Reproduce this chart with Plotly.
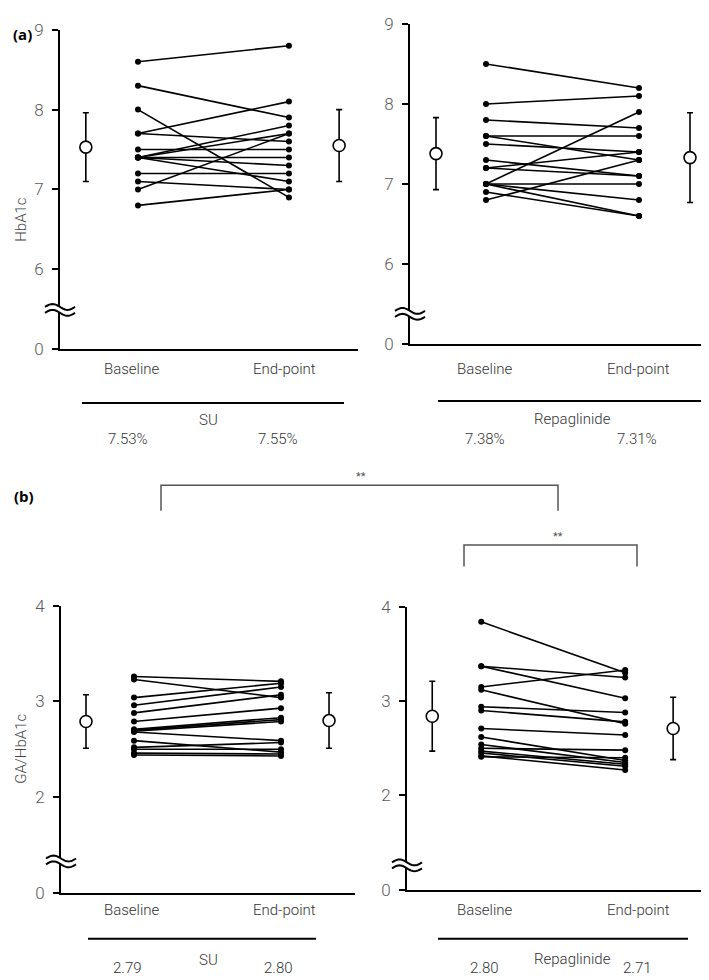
import math
import plotly.graph_objects as go

# ---------------- data ----------------
su_hba1c_base = [8.6, 8.3, 8.0, 7.7, 7.7, 7.5, 7.4, 7.4, 7.4, 7.4, 7.4, 7.2, 7.1, 7.0, 6.8]
su_hba1c_end = [8.8, 7.9, 6.9, 8.1, 7.6, 7.5, 7.8, 7.7, 7.4, 7.3, 7.1, 7.2, 7.0, 7.7, 7.0]
su_hba1c_mean = [7.53, 7.55]
su_hba1c_sd = [0.43, 0.45]

rep_hba1c_base = [8.5, 8.0, 7.8, 7.6, 7.6, 7.5, 7.3, 7.2, 7.2, 7.0, 7.0, 7.0, 7.0, 6.9, 6.8]
rep_hba1c_end = [8.2, 8.1, 7.7, 7.6, 7.3, 7.4, 7.1, 7.4, 7.1, 7.9, 7.0, 6.8, 6.6, 6.6, 7.3]
rep_hba1c_mean = [7.38, 7.33]
rep_hba1c_sd = [0.45, 0.56]

su_ga_base = [3.26, 3.23, 3.04, 2.96, 2.88, 2.79, 2.71, 2.70, 2.69, 2.68, 2.59, 2.52, 2.50, 2.46, 2.44]
su_ga_end = [3.21, 3.04, 3.19, 3.15, 3.07, 2.93, 2.83, 2.81, 2.79, 2.59, 2.47, 2.57, 2.50, 2.45, 2.43]
su_ga_mean = [2.79, 2.80]
su_ga_sd = [0.28, 0.29]

rep_ga_base = [3.84, 3.37, 3.37, 3.15, 3.12, 2.94, 2.90, 2.71, 2.62, 2.54, 2.50, 2.47, 2.45, 2.42, 2.41]
rep_ga_end = [3.30, 3.25, 3.03, 3.33, 2.76, 2.88, 2.78, 2.64, 2.37, 2.35, 2.48, 2.33, 2.31, 2.27, 2.40]
rep_ga_mean = [2.84, 2.71]
rep_ga_sd = [0.37, 0.33]

timepoints = ["Baseline", "End-point"]
groups = ["SU", "Repaglinide"]
hba1c_summary = [["7.53%", "7.55%"], ["7.38%", "7.31%"]]
ga_summary = [["2.79", "2.80"], ["2.80", "2.71"]]

hba1c_ticks = [5, 6, 7, 8, 9]
hba1c_ticktext = ["0", "6", "7", "8", "9"]
ga_ticks = [1, 2, 3, 4]
ga_ticktext = ["0", "2", "3", "4"]

# ---------------- layout helpers ----------------
W, H = 709, 980


def fx(x):
    return x / W


def fy(y):
    return 1 - y / H


FAM = "Roboto, Liberation Sans, Arial"
TICK_FONT = dict(family=FAM, size=17, color="#5a5a5a", weight=300)
LABEL_FONT = dict(family=FAM, size=15, color="#333333", weight=300)

panels = [
    dict(base=su_hba1c_base, end=su_hba1c_end, mean=su_hba1c_mean, sd=su_hba1c_sd,
         xdom=(52, 350), ydom=(12, 338), yrange=(5, 9), ticks=hba1c_ticks, ticktext=hba1c_ticktext,
         cols=(0.52, 1.57, 4.61, 5.62), squig=(52, 298)),
    dict(base=rep_hba1c_base, end=rep_hba1c_end, mean=rep_hba1c_mean, sd=rep_hba1c_sd,
         xdom=(402, 702), ydom=(6, 333), yrange=(5, 9), ticks=hba1c_ticks, ticktext=hba1c_ticktext,
         cols=(0.52, 1.52, 4.58, 5.60), squig=(402, 302)),
    dict(base=su_ga_base, end=su_ga_end, mean=su_ga_mean, sd=su_ga_sd,
         xdom=(53, 347), ydom=(600, 893), yrange=(1, 4), ticks=ga_ticks, ticktext=ga_ticktext,
         cols=(0.51, 1.49, 4.49, 5.47), squig=(53, 861)),
    dict(base=rep_ga_base, end=rep_ga_end, mean=rep_ga_mean, sd=rep_ga_sd,
         xdom=(399, 702), ydom=(601, 890), yrange=(1, 4), ticks=ga_ticks, ticktext=ga_ticktext,
         cols=(0.50, 1.47, 4.32, 5.27), squig=(399, 865)),
]

fig = go.Figure()
layout_axes = {}
shapes = []

for i, p in enumerate(panels):
    sfx = "" if i == 0 else str(i + 1)
    xa, ya = "x" + sfx, "y" + sfx
    mL, bx, ex, mR = p["cols"]

    xs, ys = [], []
    for b, e in zip(p["base"], p["end"]):
        xs += [bx, ex, None]
        ys += [b, e, None]
    fig.add_trace(go.Scatter(
        x=xs, y=ys, xaxis=xa, yaxis=ya, mode="lines+markers",
        line=dict(color="black", width=1.6), marker=dict(color="black", size=6),
        showlegend=False, hoverinfo="skip", cliponaxis=False))

    fig.add_trace(go.Scatter(
        x=[mL, mR], y=p["mean"], xaxis=xa, yaxis=ya, mode="markers",
        marker=dict(symbol="circle", color="white", size=12, line=dict(color="black", width=1.6)),
        error_y=dict(type="data", array=p["sd"], visible=True, color="black", thickness=1.6, width=3),
        showlegend=False, hoverinfo="skip", cliponaxis=False))

    layout_axes["xaxis" + sfx] = dict(
        domain=[fx(p["xdom"][0]), fx(p["xdom"][1])], range=[0, 6], anchor=ya,
        showline=True, linecolor="black", linewidth=2, showgrid=False, zeroline=False,
        showticklabels=False, ticks="", fixedrange=True)
    layout_axes["yaxis" + sfx] = dict(
        domain=[fy(p["ydom"][1]), fy(p["ydom"][0])], range=list(p["yrange"]), anchor=xa,
        showline=True, linecolor="black", linewidth=2, showgrid=False, zeroline=False,
        tickvals=p["ticks"], ticktext=p["ticktext"], ticks="outside", ticklen=6,
        tickwidth=2, tickcolor="black", tickfont=TICK_FONT, ticklabelstandoff=5, fixedrange=True)

    # axis break squiggle
    cx, cy = p["squig"]
    n = 24
    up, lo = [], []
    for k in range(n + 1):
        t = k / n
        x = cx - 15 + 30 * t
        dy = -3.0 * math.sin(2 * math.pi * t)
        up.append((x, cy - 3 + dy))
        lo.append((x, cy + 3 + dy))
    fill_pts = up + lo[::-1]
    path_fill = "M " + " L ".join(f"{fx(a):.5f},{fy(b):.5f}" for a, b in fill_pts) + " Z"
    shapes.append(dict(type="path", xref="paper", yref="paper", path=path_fill,
                       fillcolor="white", line=dict(width=0), layer="above"))
    for wave in (up, lo):
        pth = "M " + " L ".join(f"{fx(a):.5f},{fy(b):.5f}" for a, b in wave)
        shapes.append(dict(type="path", xref="paper", yref="paper", path=pth,
                           line=dict(color="black", width=2), layer="above"))


def hline(x0, x1, y, color="black", width=2):
    shapes.append(dict(type="line", xref="paper", yref="paper", x0=fx(x0), x1=fx(x1),
                       y0=fy(y), y1=fy(y), line=dict(color=color, width=width)))


def bracket(x0, x1, ytop, ybot):
    pth = f"M {fx(x0)},{fy(ybot)} L {fx(x0)},{fy(ytop)} L {fx(x1)},{fy(ytop)} L {fx(x1)},{fy(ybot)}"
    shapes.append(dict(type="path", xref="paper", yref="paper", path=pth,
                       line=dict(color="#555555", width=1.5)))


# group underlines
hline(74, 336, 393)
hline(430, 693, 391)
hline(80, 308, 940)
hline(430, 680, 940)
# significance brackets
bracket(153, 550, 477, 503)
bracket(456, 629, 538, 560)

annotations = []


def text(t, x, y, font, **kw):
    annotations.append(dict(text=t, x=fx(x), y=fy(y), xref="paper", yref="paper",
                            showarrow=False, xanchor="center", yanchor="middle", font=font, **kw))


bold = dict(family="Open Sans, Arial", size=15, color="black")
text("<b>(a)</b>", 15, 16, bold)
text("<b>(b)</b>", 16, 488, bold)

ytitle_font = dict(family=FAM, size=15, color="#444444", weight=300)
text("HbA1c", 13, 206, ytitle_font, textangle=-90)
text("GA/HbA1c", 13, 746, ytitle_font, textangle=-90)

# timepoint labels
for (x0, x1), yl in [((124, 276), 358), ((477, 630), 358), ((124, 276), 911), ((477, 630), 911)]:
    text(timepoints[0], x0, yl, LABEL_FONT)
    text(timepoints[1], x1, yl, LABEL_FONT)

# group names + summary values
text(groups[0], 200, 410, LABEL_FONT)
text(groups[1], 564, 409, LABEL_FONT)
text(hba1c_summary[0][0], 120, 430, LABEL_FONT)
text(hba1c_summary[0][1], 270, 430, LABEL_FONT)
text(hba1c_summary[1][0], 477, 430, LABEL_FONT)
text(hba1c_summary[1][1], 629, 430, LABEL_FONT)

text(groups[0], 200, 962, LABEL_FONT)
text(groups[1], 564, 961, LABEL_FONT)
text(ga_summary[0][0], 120, 970, LABEL_FONT)
text(ga_summary[0][1], 270, 970, LABEL_FONT)
text(ga_summary[1][0], 477, 970, LABEL_FONT)
text(ga_summary[1][1], 629, 970, LABEL_FONT)

star_font = dict(family=FAM, size=11, color="#555555")
text("**", 353, 468, star_font)
text("**", 550, 529, star_font)

fig.update_layout(
    width=W, height=H, margin=dict(l=0, r=0, t=0, b=0),
    paper_bgcolor="white", plot_bgcolor="white",
    shapes=shapes, annotations=annotations, showlegend=False,
    **layout_axes)

fig.write_html("out.html")
